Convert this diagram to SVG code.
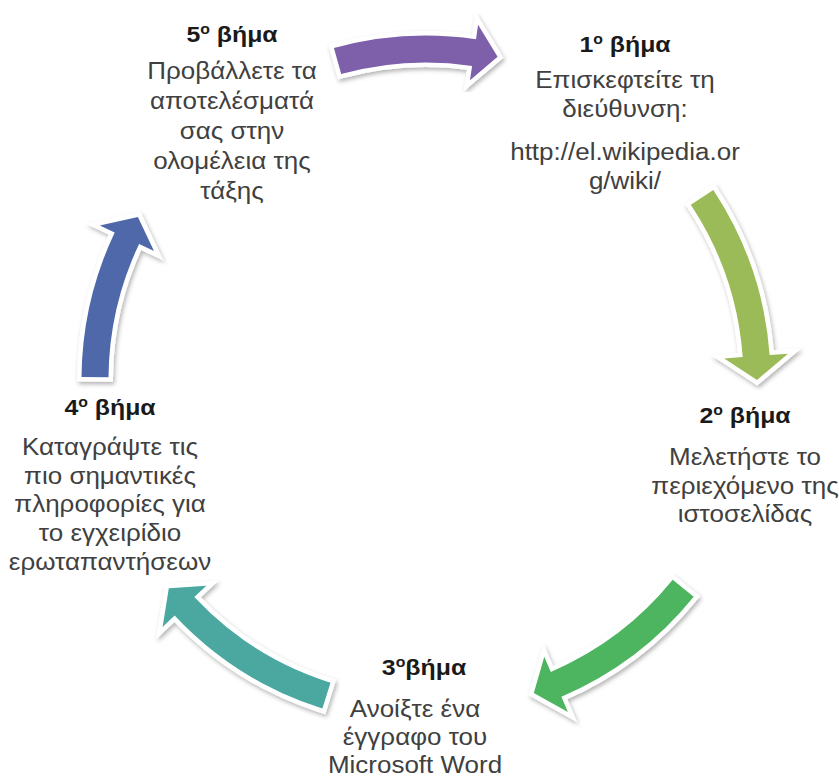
<svg xmlns="http://www.w3.org/2000/svg" width="839" height="778" viewBox="0 0 839 778">
<defs>
<filter id="sh" x="-20%" y="-20%" width="140%" height="140%">
<feDropShadow dx="1.5" dy="2.5" stdDeviation="2.2" flood-color="#000" flood-opacity="0.3"/>
</filter>
<style>
.arr{stroke:#fff;stroke-width:9;stroke-linejoin:miter;paint-order:stroke;filter:url(#sh)}
.t{font-family:"Liberation Sans",Arial,sans-serif;font-weight:bold;font-size:22px;fill:#1a1a1a;text-anchor:middle}
.b{font-family:"Liberation Sans",Arial,sans-serif;font-size:23px;fill:#404040;text-anchor:middle}
.s{font-size:14px}
</style>
</defs>
<rect width="839" height="778" fill="#fff"/>
<g id="connectors">
<path class="arr" fill="#7D5FAA" d="M333.9,48.0 A344.5,344.5 0 0 1 476.0,39.2 L478.1,24.8 L497.6,56.8 L470.0,80.2 L472.1,65.9 A317.5,317.5 0 0 0 341.2,74.0 Z"/>
<path class="arr" fill="#9BBB59" d="M713.3,189.9 A344.5,344.5 0 0 1 769.6,355.1 L788.0,353.7 L757.0,380.0 L724.2,358.4 L742.7,357.0 A317.5,317.5 0 0 0 690.8,204.8 Z"/>
<path class="arr" fill="#4DB460" d="M693.7,596.8 A344.5,344.5 0 0 1 561.4,696.8 L567.9,711.9 L533.8,693.0 L544.3,656.8 L550.8,671.9 A317.5,317.5 0 0 0 672.7,579.8 Z"/>
<path class="arr" fill="#4BA8A0" d="M322.4,708.6 A344.5,344.5 0 0 1 174.6,615.6 L162.6,626.9 L168.8,588.3 L206.4,585.8 L194.3,597.1 A317.5,317.5 0 0 0 330.5,682.8 Z"/>
<path class="arr" fill="#4F68AA" d="M81.5,377.0 A344.5,344.5 0 0 1 114.7,232.5 L99.8,225.4 L137.9,217.0 L154.0,251.1 L139.1,244.1 A317.5,317.5 0 0 0 108.5,377.2 Z"/>
</g>
<g id="node1" transform="translate(625,0) scale(1.13,1)">
<text class="t" x="0" y="52">1<tspan class="s" dy="-8">ο</tspan><tspan dy="8"> βήμα</tspan></text>
<text class="b" x="0" y="88">Επισκεφτείτε τη</text>
<text class="b" x="0" y="117">διεύθυνση:</text>
<text class="b" x="0" y="160">http://el.wikipedia.or</text>
<text class="b" x="0" y="189">g/wiki/</text>
</g>
<g id="node2" transform="translate(745,0) scale(1.13,1)">
<text class="t" x="0" y="423">2<tspan class="s" dy="-8">ο</tspan><tspan dy="8"> βήμα</tspan></text>
<text class="b" x="0" y="465">Μελετήστε το</text>
<text class="b" x="0" y="494">περιεχόμενο της</text>
<text class="b" x="0" y="522">ιστοσελίδας</text>
</g>
<g id="node3" transform="translate(415,0) scale(1.13,1)">
<text class="t" x="8" y="675">3<tspan class="s" dy="-8">ο</tspan><tspan dy="8">βήμα</tspan></text>
<text class="b" x="0" y="717">Ανοίξτε ένα</text>
<text class="b" x="0" y="745">έγγραφο του</text>
<text class="b" x="0" y="773">Microsoft Word</text>
</g>
<g id="node4" transform="translate(110,0) scale(1.13,1)">
<text class="t" x="0" y="415">4<tspan class="s" dy="-8">ο</tspan><tspan dy="8"> βήμα</tspan></text>
<text class="b" x="0" y="455">Καταγράψτε τις</text>
<text class="b" x="0" y="484">πιο σημαντικές</text>
<text class="b" x="0" y="512">πληροφορίες για</text>
<text class="b" x="0" y="541">το εγχειρίδιο</text>
<text class="b" x="0" y="570">ερωταπαντήσεων</text>
</g>
<g id="node5" transform="translate(232,0) scale(1.13,1)">
<text class="t" x="0" y="42">5<tspan class="s" dy="-8">ο</tspan><tspan dy="8"> βήμα</tspan></text>
<text class="b" x="0" y="79">Προβάλλετε τα</text>
<text class="b" x="0" y="109">αποτελέσματά</text>
<text class="b" x="0" y="139">σας στην</text>
<text class="b" x="0" y="169">ολομέλεια της</text>
<text class="b" x="0" y="199">τάξης</text>
</g>
</svg>
